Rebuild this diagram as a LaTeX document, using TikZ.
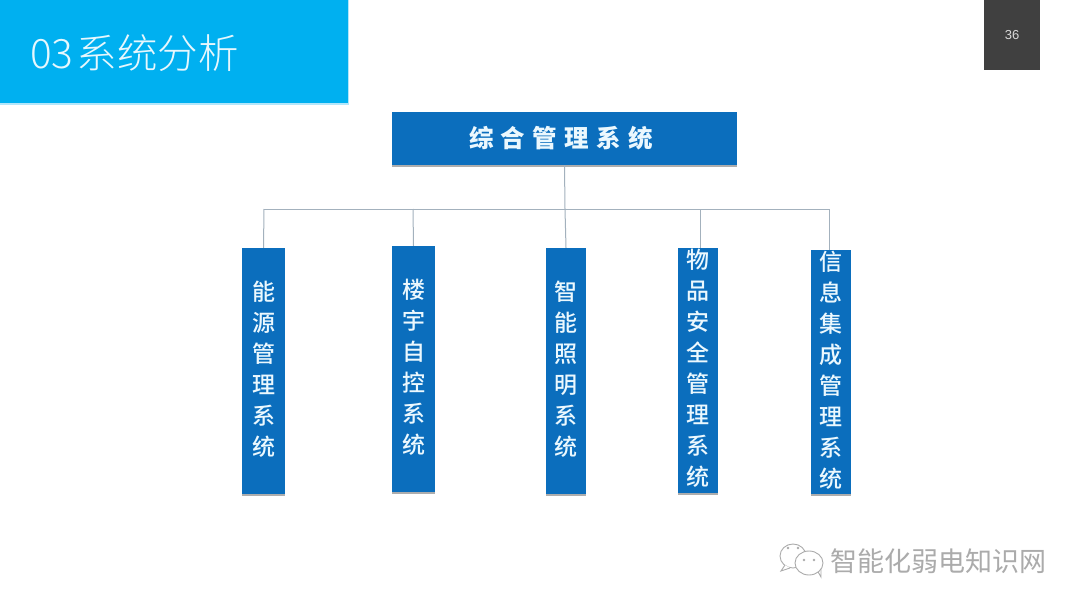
\documentclass[tikz,border=0pt]{standalone}
\usepackage{fontspec}
\usepackage{xcolor}
\usetikzlibrary{shadows}
\setmainfont{Liberation Sans}
\newfontfamily\cjk{Noto Sans CJK SC}
\newfontfamily\cjklight[UprightFont=* Light]{Noto Sans CJK SC}
\newfontfamily\cjkmedium[UprightFont=* Medium]{Noto Sans CJK SC}
\newfontfamily\cjkwide[LetterSpace=30]{Noto Sans CJK SC}
\definecolor{bannerblue}{HTML}{00B0F0}
\definecolor{boxblue}{HTML}{0B6EBD}
\definecolor{pagegray}{HTML}{404040}
\definecolor{linkgray}{HTML}{A3B1BD}
\definecolor{marktext}{HTML}{ABABAB}
\tikzset{
  boxnode/.style={fill=boxblue,inner sep=0pt,align=center,text=white!92!cyan,
    drop shadow={shadow xshift=0pt,shadow yshift=-2pt,opacity=0.4,fill=black!80}},
  sidebox/.style={boxnode,minimum height=246pt,
    font=\fontsize{23}{31}\selectfont\cjkmedium},
  linkline/.style={draw=linkgray,line width=1pt},
}
\begin{document}
\begin{tikzpicture}[x=1pt,y=-1pt]
\useasboundingbox[fill=white] (0,0) rectangle (1080,608);
% Title and page number
\fill[cyan!30!white] (0,0) rectangle (349,105);
\node[fill=bannerblue,minimum width=348pt,minimum height=103pt,inner sep=0pt,anchor=north west] (banner) at (0,0) {};
\node[anchor=west,text=white!90!cyan,font=\fontsize{40.5}{40.5}\selectfont\cjklight,inner sep=0pt] (title) at (30,53) {03\hspace{3pt}系统分析};
\node[fill=pagegray,minimum width=56pt,minimum height=70pt,inner sep=0pt,anchor=north west,text=white!85!black,font=\fontsize{13}{13}\selectfont] (pagenum) at (984,0) {36};
% Boxes
\node[boxnode,minimum width=345pt,minimum height=53pt,font=\fontsize{24.5}{24.5}\selectfont\cjkwide\bfseries] (top) at (564.5,138.5) {综合管理系统\hspace{7pt}};
\node[sidebox,minimum width=43pt] (box1) at (263.5,371) {能\\源\\管\\理\\系\\统\\[-25pt]};
\node[sidebox,minimum width=43pt] (box2) at (413.5,369) {楼\\宇\\自\\控\\系\\统\\[-25pt]};
\node[sidebox,minimum width=40pt] (box3) at (566,371) {智\\能\\照\\明\\系\\统\\[-25pt]};
\node[sidebox,minimum width=40pt,minimum height=245pt] (box4) at (698,370.5) {物\\品\\安\\全\\管\\理\\系\\统\\[-25pt]};
\node[sidebox,minimum width=40pt,minimum height=244pt] (box5) at (831,372) {信\\息\\集\\成\\管\\理\\系\\统\\[-25pt]};
% Define coordinates
\coordinate (bus1) at (264,209);
\coordinate (bus2) at (413,209);
\coordinate (bus3) at (565,209);
\coordinate (bus4) at (700,209);
\coordinate (bus5) at (829,209);
\coordinate (drop4) at (700,248);
\coordinate (drop5) at (829,250);
% Connect boxes
\draw[linkline] (top.south) -- (bus3);
\draw[linkline] (bus1) -- (bus5);
\draw[linkline] (bus1) -- (box1.north);
\draw[linkline] (bus2) -- (box2.north);
\draw[linkline] (bus3) -- (box3.north);
\draw[linkline] (bus4) -- (drop4);
\draw[linkline] (bus5) -- (drop5);
% Watermark
\draw[marktext,line width=0.9pt,fill=white] (793,556) ellipse (13pt and 12pt);
\draw[marktext,line width=0.9pt,fill=white] (785,565) -- (781,571) -- (790,568);
\draw[marktext,line width=0.9pt,fill=white] (817,570) -- (821,577) -- (821,567);
\draw[marktext,line width=0.9pt,fill=white] (809,563) ellipse (14pt and 12pt);
\fill[marktext] (788,548) circle (1.3pt) (798,548) circle (1.3pt) (804,560) circle (1.3pt) (814,560) circle (1.3pt);
\node[anchor=west,text=marktext,inner sep=0pt,font=\fontsize{27}{27}\selectfont\cjk] (mark) at (830,561) {智能化弱电知识网};
\end{tikzpicture}
\end{document}
